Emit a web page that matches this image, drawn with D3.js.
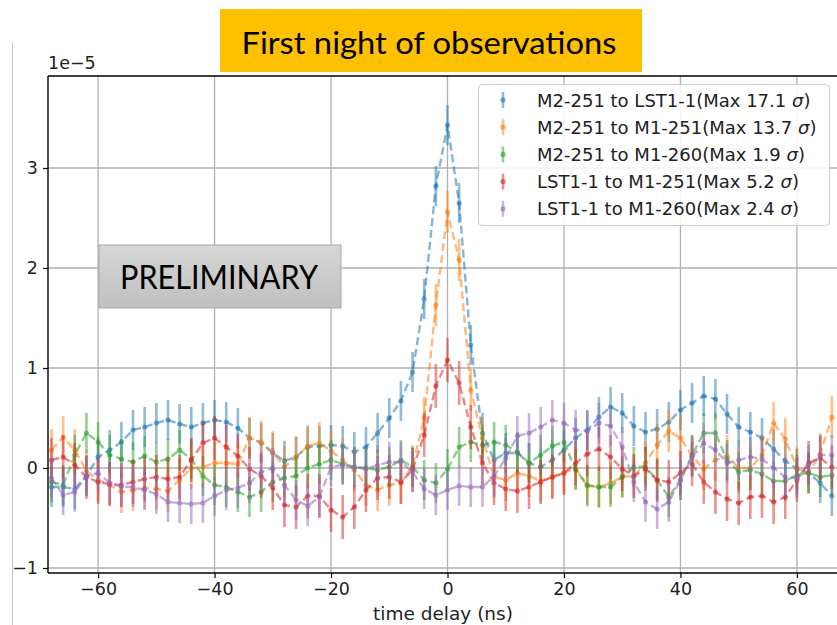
<!DOCTYPE html>
<html><head><meta charset="utf-8">
<script src="https://cdn.jsdelivr.net/npm/d3@7"></script>
<style>
html,body{margin:0;padding:0;background:#fff;}
svg{display:block;}
</style></head>
<body>
<svg id="chart" width="837" height="625"></svg>
<script>
// time delay (ns): -68, -66, ..., 66
const delays = d3.range(-68, 67, 2);

const seriesNames = [
  "M2-251 to LST1-1(Max 17.1 ",
  "M2-251 to M1-251(Max 13.7 ",
  "M2-251 to M1-260(Max 1.9 ",
  "LST1-1 to M1-251(Max 5.2 ",
  "LST1-1 to M1-260(Max 2.4 "
];
const seriesColors = ["#1f77b4", "#ff7f0e", "#2ca02c", "#d62728", "#9467bd"];

// values in units of 1e-5
const m2ToLst1 = [-0.19,-0.19,-0.21,-0.08,0.11,0.18,0.26,0.38,0.41,0.45,0.48,0.44,0.41,0.45,0.48,0.46,0.40,0.30,0.25,0.15,0.07,0.11,0.21,0.22,0.23,0.22,0.16,0.21,0.35,0.50,0.67,0.96,1.69,2.82,3.43,2.65,1.23,0.35,0.08,0.15,0.15,0.05,0.01,0.08,0.18,0.30,0.38,0.51,0.61,0.55,0.42,0.36,0.39,0.46,0.58,0.65,0.72,0.69,0.54,0.41,0.36,0.30,0.19,0.07,-0.01,-0.05,-0.15,-0.28];
const m2ToM1_251 = [0.18,0.31,0.18,-0.03,-0.12,-0.17,-0.24,-0.22,-0.20,-0.21,-0.23,-0.12,0.00,0.01,0.05,0.05,0.04,0.30,0.26,0.16,0.01,0.11,0.22,0.25,0.17,0.08,-0.02,-0.17,-0.22,-0.17,-0.15,0.02,0.50,1.63,2.56,2.08,0.78,0.30,-0.09,-0.12,-0.05,-0.08,-0.13,-0.09,-0.05,0.00,-0.18,-0.19,-0.15,-0.09,-0.08,0.05,0.23,0.37,0.30,0.12,-0.01,0.08,0.12,0.00,0.00,0.13,0.45,0.29,0.00,-0.05,0.14,0.51];
const m2ToM1_260 = [-0.14,-0.17,0.13,0.35,0.26,0.13,0.09,0.06,0.12,0.06,0.09,0.18,0.09,-0.08,-0.17,-0.19,-0.24,-0.29,-0.24,-0.14,-0.10,-0.08,0.00,0.04,0.08,0.04,0.01,0.00,-0.02,0.01,0.08,0.01,-0.12,-0.15,-0.01,0.21,0.26,0.23,0.26,0.23,0.16,0.05,0.13,0.22,0.26,-0.02,-0.17,-0.19,-0.19,-0.09,0.01,0.01,-0.12,-0.29,-0.12,0.13,0.35,0.35,0.08,-0.04,-0.02,-0.06,-0.13,-0.13,-0.07,-0.05,-0.09,-0.07];
const lst1ToM1_251 = [0.08,0.11,0.03,-0.09,-0.14,-0.16,-0.17,-0.14,-0.11,-0.09,-0.11,-0.09,0.08,0.25,0.30,0.21,0.12,-0.01,-0.08,-0.20,-0.37,-0.39,-0.28,-0.28,-0.42,-0.49,-0.39,-0.22,-0.10,-0.09,-0.14,-0.02,0.33,0.82,1.08,0.85,0.41,0.05,-0.15,-0.21,-0.23,-0.19,-0.14,-0.09,-0.05,0.05,0.14,0.19,0.11,-0.01,-0.08,-0.01,-0.12,-0.14,-0.05,0.04,-0.14,-0.24,-0.31,-0.35,-0.29,-0.28,-0.34,-0.29,-0.12,0.05,0.10,0.01];
const lst1ToM1_260 = [-0.10,-0.27,-0.24,-0.08,-0.05,-0.15,-0.19,-0.19,-0.22,-0.26,-0.34,-0.35,-0.36,-0.35,-0.28,-0.22,-0.20,-0.15,-0.04,0.00,-0.17,-0.32,-0.38,-0.29,0.01,0.03,0.01,-0.01,0.03,0.06,0.06,-0.04,-0.21,-0.27,-0.22,-0.18,-0.19,-0.19,-0.08,0.10,0.32,0.35,0.41,0.48,0.45,0.38,0.37,0.45,0.42,0.21,-0.14,-0.34,-0.41,-0.34,-0.12,0.11,0.25,0.18,0.05,0.08,0.11,0.09,0.00,-0.09,-0.10,0.03,0.13,0.13];
// typical half-length of the error bars per series (1e-5)
const seriesErrors = [0.20, 0.21, 0.20, 0.22, 0.20];

const seriesValues = [m2ToLst1, m2ToM1_251, m2ToM1_260, lst1ToM1_251, lst1ToM1_260];

const xTicks = [-60, -40, -20, 0, 20, 40, 60];
const yTicks = [-1, 0, 1, 2, 3];

(function () {
const svg = d3.select("#chart");

// slide border line
svg.append("line").attr("x1", 12.5).attr("x2", 12.5).attr("y1", 42).attr("y2", 625)
  .attr("stroke", "#c8c8c8").attr("stroke-width", 1);

const pL = 48, pR = 847, pT = 76, pB = 573;
const x = d3.scaleLinear().domain([-68.6, 68.6]).range([pL, pR]);
const y = d3.scaleLinear().domain([-1.05, 3.92]).range([pB, pT]);

// grid
const grid = svg.append("g");
grid.selectAll(".gx").data(xTicks).enter().append("line")
  .attr("x1", d => x(d)).attr("x2", d => x(d)).attr("y1", pT).attr("y2", pB)
  .attr("stroke", "#b0b0b0").attr("stroke-width", 1.3);
grid.selectAll(".gy").data(yTicks).enter().append("line")
  .attr("x1", pL).attr("x2", 837).attr("y1", d => y(d)).attr("y2", d => y(d))
  .attr("stroke", "#b0b0b0").attr("stroke-width", 1.3);

// data
svg.append("clipPath").attr("id", "plotclip").append("rect")
  .attr("x", pL).attr("y", pT).attr("width", pR - pL).attr("height", pB - pT);
const plot = svg.append("g").attr("clip-path", "url(#plotclip)");

const line = d3.line().x((d, i) => x(delays[i])).y(d => y(d));

seriesValues.forEach((vals, s) => {
  const g = plot.append("g");
  const c = seriesColors[s];
  const e = seriesErrors[s];
  g.selectAll("line.err").data(vals).enter().append("line")
    .attr("x1", (d, i) => x(delays[i])).attr("x2", (d, i) => x(delays[i]))
    .attr("y1", d => y(d - e)).attr("y2", d => y(d + e))
    .attr("stroke", c).attr("stroke-width", 2.6).attr("stroke-opacity", 0.5);
  g.append("path").datum(vals).attr("d", line)
    .attr("fill", "none").attr("stroke", c).attr("stroke-width", 2.4)
    .attr("stroke-opacity", 0.55).attr("stroke-dasharray", "8,4");
  g.selectAll("circle").data(vals).enter().append("circle")
    .attr("cx", (d, i) => x(delays[i])).attr("cy", d => y(d)).attr("r", 2.6)
    .attr("fill", c).attr("fill-opacity", 0.6);
});

// spines
svg.append("line").attr("x1", pL).attr("x2", pL).attr("y1", pT).attr("y2", pB)
  .attr("stroke", "#000").attr("stroke-width", 1.4);
svg.append("line").attr("x1", pL).attr("x2", 837).attr("y1", pB).attr("y2", pB)
  .attr("stroke", "#000").attr("stroke-width", 1.4);
svg.append("line").attr("x1", pL).attr("x2", 837).attr("y1", pT).attr("y2", pT)
  .attr("stroke", "#000").attr("stroke-width", 1.4);

// axes
const fmt = d3.format("d");
const xAxis = svg.append("g").attr("transform", `translate(0,${pB})`)
  .call(d3.axisBottom(x).tickValues(xTicks).tickFormat(fmt).tickSizeOuter(0).tickSize(5).tickPadding(5));
const yAxis = svg.append("g").attr("transform", `translate(${pL},0)`)
  .call(d3.axisLeft(y).tickValues(yTicks).tickFormat(fmt).tickSizeOuter(0).tickSize(5).tickPadding(5));
[xAxis, yAxis].forEach(a => {
  a.select(".domain").remove();
  a.selectAll(".tick line").attr("stroke", "#000").attr("stroke-width", 1.2);
  a.selectAll(".tick text").attr("font-family", "DejaVu Sans").attr("font-size", 17.5).attr("fill", "#222");
});

svg.append("text").attr("x", pL).attr("y", 69).text("1e\u22125")
  .attr("font-family", "DejaVu Sans").attr("font-size", 17.5).attr("fill", "#222");
svg.append("text").attr("x", 443).attr("y", 620).attr("text-anchor", "middle")
  .text("time delay (ns)").attr("font-family", "DejaVu Sans").attr("font-size", 18.5).attr("fill", "#222");

// legend
const lg = svg.append("g");
lg.append("rect").attr("x", 478.5).attr("y", 84.5).attr("width", 351).attr("height", 141)
  .attr("rx", 4).attr("fill", "#fff").attr("fill-opacity", 0.85).attr("stroke", "#cccccc");
seriesNames.forEach((name, s) => {
  const cy = 100 + s * 27.2;
  const c = seriesColors[s];
  lg.append("line").attr("x1", 503).attr("x2", 503).attr("y1", cy - 8).attr("y2", cy + 8)
    .attr("stroke", c).attr("stroke-width", 2.6).attr("stroke-opacity", 0.5);
  lg.append("circle").attr("cx", 503).attr("cy", cy).attr("r", 2.6).attr("fill", c).attr("fill-opacity", 0.6);
  const t = lg.append("text").attr("x", 537).attr("y", cy + 6.5)
    .attr("font-family", "DejaVu Sans").attr("font-size", 18).attr("fill", "#222");
  t.append("tspan").text(name);
  t.append("tspan").text("\u03c3").attr("font-style", "italic");
  t.append("tspan").text(")");
});

// title box
svg.append("rect").attr("x", 220).attr("y", 9).attr("width", 422).attr("height", 63).attr("fill", "#ffc000");
svg.append("text").attr("x", 241.5).attr("y", 53.5).text("First night of observations")
  .attr("font-family", "Lato").attr("font-size", 30).attr("fill", "#000")
  .attr("textLength", 375).attr("lengthAdjust", "spacingAndGlyphs");

// preliminary box
const defs = svg.append("defs");
const grad = defs.append("linearGradient").attr("id", "pg").attr("x1", 0).attr("x2", 0).attr("y1", 0).attr("y2", 1);
grad.append("stop").attr("offset", "0%").attr("stop-color", "#d6d6d6");
grad.append("stop").attr("offset", "100%").attr("stop-color", "#c0c0c0");
svg.append("rect").attr("x", 99).attr("y", 245).attr("width", 242).attr("height", 63)
  .attr("fill", "url(#pg)").attr("stroke", "#a8a8a8").attr("stroke-width", 1);
svg.append("text").attr("x", 120).attr("y", 289).text("PRELIMINARY")
  .attr("font-family", "Lato").attr("font-size", 32).attr("fill", "#000")
  .attr("textLength", 198).attr("lengthAdjust", "spacingAndGlyphs");
})();
</script>
</body></html>
